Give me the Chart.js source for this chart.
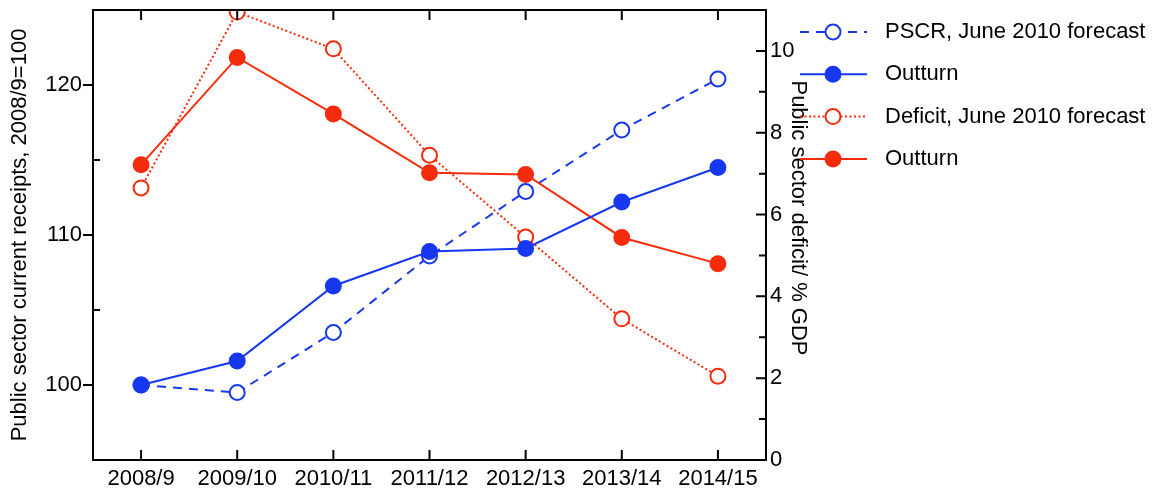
<!DOCTYPE html>
<html>
<head>
<meta charset="utf-8">
<script src="https://cdn.jsdelivr.net/npm/chart.js@4.4.1/dist/chart.umd.min.js"></script>
<style>
  html,body{margin:0;padding:0;background:#fff;}
  #wrap{width:1159px;height:490px;position:relative;}
</style>
</head>
<body>
<div id="wrap"><canvas id="ch"></canvas></div>
<script>
/* ---------- data ---------- */
const years=['2008/9','2009/10','2010/11','2011/12','2012/13','2013/14','2014/15'];
const pscrForecast=[100,99.5,103.5,108.6,112.9,117.0,120.4];
const pscrOutturn=[100,101.6,106.6,108.9,109.1,112.2,114.5];
const deficitForecast=[6.65,10.95,10.05,7.45,5.45,3.45,2.05];
const deficitOutturn=[7.22,9.84,8.46,7.02,6.98,5.44,4.8];
const leftTitle='Public sector current receipts, 2008/9=100';
const rightTitle='Public sector deficit/ % GDP';
const legendLabels=['PSCR, June 2010 forecast','Outturn','Deficit, June 2010 forecast','Outturn'];

const BLUE='#1838f0', RED='#f52c0c';
const FONT='"Liberation Sans", Arial, Helvetica, sans-serif';

function ds(label,data,color,axis,dash,open){
  return {label,data,yAxisID:axis,borderColor:color,borderWidth:2,borderDash:dash,order:open?1:0,
    pointRadius:7.5,pointHoverRadius:7.5,pointBorderWidth:2,pointBorderColor:color,
    pointBackgroundColor:open?'#fff':color,backgroundColor:color,tension:0,fill:false};
}
function noPad(s){s.paddingTop=0;s.paddingBottom=0;s.paddingLeft=0;s.paddingRight=0;}

/* ---------- frame, inner ticks, right title, legend ---------- */
const decor={
  id:'decor',
  afterDraw(chart){
    const {ctx,chartArea:a,scales}=chart;
    ctx.save();
    ctx.strokeStyle='#000';ctx.lineWidth=2;
    ctx.strokeRect(a.left,a.top,a.right-a.left,a.bottom-a.top);
    ctx.beginPath();
    scales.x.ticks.forEach((t,i)=>{
      const px=scales.x.getPixelForTick(i);
      ctx.moveTo(px,a.bottom);ctx.lineTo(px,a.bottom-10);
      ctx.moveTo(px,a.top);ctx.lineTo(px,a.top+10);
    });
    scales.y.ticks.forEach(t=>{
      const py=scales.y.getPixelForValue(t.value);
      if(t.value%10===0){ctx.moveTo(a.left-10,py);ctx.lineTo(a.left,py);}
      else{ctx.moveTo(a.left,py);ctx.lineTo(a.left+7,py);}
    });
    scales.y1.ticks.forEach(t=>{
      const py=scales.y1.getPixelForValue(t.value);
      ctx.moveTo(a.right,py);ctx.lineTo(a.right-(t.value%2===0?10:7),py);
    });
    ctx.stroke();

    // right axis title
    ctx.fillStyle='#000';ctx.font='22px '+FONT;
    ctx.save();ctx.translate(798,218);ctx.rotate(Math.PI/2);
    ctx.textAlign='center';ctx.textBaseline='middle';ctx.fillText(rightTitle,0,0);ctx.restore();

    // legend
    chart.data.datasets.forEach((d,i)=>{
      const y=32+i*42.3;
      ctx.strokeStyle=d.borderColor;ctx.lineWidth=2;ctx.setLineDash(d.borderDash||[]);
      ctx.beginPath();ctx.moveTo(800,y);ctx.lineTo(867,y);ctx.stroke();
      ctx.setLineDash([]);
      ctx.beginPath();ctx.arc(833,y,7.5,0,Math.PI*2);
      ctx.fillStyle=d.pointBackgroundColor;ctx.fill();ctx.stroke();
      ctx.fillStyle='#000';ctx.textAlign='left';ctx.textBaseline='middle';
      ctx.fillText(legendLabels[i],885,y);
    });
    ctx.restore();
  }
};

new Chart(document.getElementById('ch'),{
  type:'line',
  data:{labels:years,datasets:[
    ds('PSCR, June 2010 forecast',pscrForecast,BLUE,'y',[9,7],true),
    ds('Outturn',pscrOutturn,BLUE,'y',[],false),
    ds('Deficit, June 2010 forecast',deficitForecast,RED,'y1',[2,2.5],true),
    ds('Outturn',deficitOutturn,RED,'y1',[],false)
  ]},
  options:{
    responsive:true,maintainAspectRatio:false,animation:false,
    layout:{padding:{left:3,right:344,top:10,bottom:0}},
    plugins:{legend:{display:false},tooltip:{enabled:false}},
    scales:{
      x:{offset:true,grid:{display:false,drawTicks:false},border:{display:false},
        ticks:{color:'#000',font:{family:FONT,size:22},padding:6,maxRotation:0},
        afterFit(s){s.height=30;noPad(s);}},
      y:{position:'left',min:95,max:125,grid:{display:false,drawTicks:false},border:{display:false},
        ticks:{stepSize:5,color:'#000',font:{family:FONT,size:22},padding:11,
          callback:v=>v%10===0?v:''},
        title:{display:true,text:leftTitle,color:'#000',font:{family:FONT,size:22}},
        afterFit(s){s.width=90;noPad(s);}},
      y1:{position:'right',min:0,max:11,grid:{display:false,drawTicks:false},border:{display:false},
        ticks:{stepSize:1,color:'#000',font:{family:FONT,size:22},padding:4,
          callback:v=>v%2===0?v:''},
        afterFit(s){s.width=49;noPad(s);}}
    }
  },
  plugins:[decor]
});
</script>
</body>
</html>
